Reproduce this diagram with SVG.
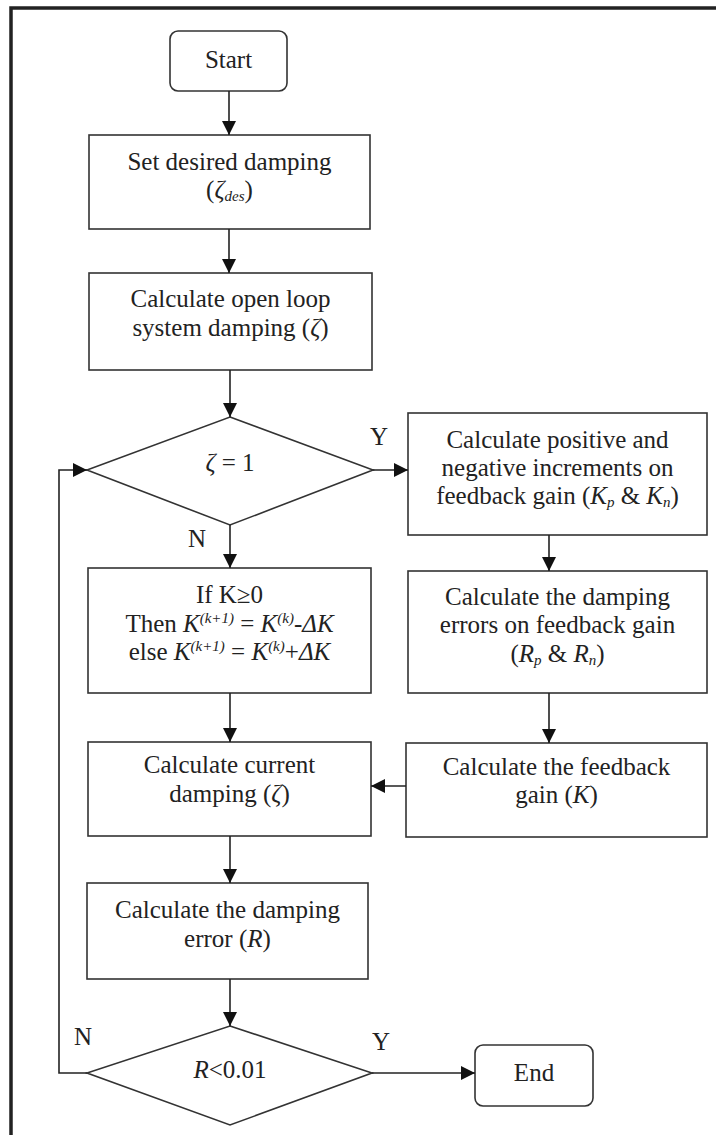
<svg xmlns="http://www.w3.org/2000/svg" width="716" height="1135" viewBox="0 0 716 1135">
<style>
.box{fill:#fff;stroke:#333;stroke-width:1.6}
.frame{fill:none;stroke:#222;stroke-width:3.5}
.con{fill:none;stroke:#222;stroke-width:1.6}
text{font-family:"Liberation Serif","Times New Roman",serif;font-size:25px;fill:#222}
.t{text-anchor:middle}
.i{font-style:italic}
.s{font-size:15px;font-style:italic}
</style>
<defs>
<marker id="ah" markerUnits="userSpaceOnUse" markerWidth="15" markerHeight="15" refX="14" refY="7" orient="auto">
<path d="M0,0 L14,7 L0,14 z" fill="#111"/>
</marker>
</defs>
<rect width="716" height="1135" fill="#fff"/>
<path class="frame" d="M11,1135 L11,8 L716,8"/>

<g id="start">
<rect class="box" x="170" y="31" width="117" height="60" rx="8"/>
<text class="t" x="228.5" y="68">Start</text>
</g>
<g id="set-desired">
<rect class="box" x="89" y="135" width="281" height="94"/>
<text class="t" x="229.5" y="170">Set desired damping</text>
<text class="t" x="229.5" y="198">(<tspan class="i">ζ</tspan><tspan class="s" dy="3">des</tspan><tspan dy="-3">)</tspan></text>
</g>
<g id="open-loop">
<rect class="box" x="89" y="273" width="283" height="97"/>
<text class="t" x="230.5" y="307">Calculate open loop</text>
<text class="t" x="230.5" y="336">system damping (<tspan class="i">ζ</tspan>)</text>
</g>
<g id="decision-zeta">
<path class="box" d="M230,417 L373,470 L230,525 L87,470 z"/>
<text class="t" x="230" y="471"><tspan class="i">ζ</tspan> = 1</text>
</g>
<g id="increments">
<rect class="box" x="408" y="413" width="299" height="122"/>
<text class="t" x="557.5" y="448">Calculate positive and</text>
<text class="t" x="557.5" y="476">negative increments on</text>
<text class="t" x="557.5" y="504">feedback gain (<tspan class="i">K</tspan><tspan class="s" dy="3">p</tspan><tspan dy="-3"> &amp; </tspan><tspan class="i">K</tspan><tspan class="s" dy="3">n</tspan><tspan dy="-3">)</tspan></text>
</g>
<g id="update-k">
<rect class="box" x="88" y="568" width="283" height="125"/>
<text class="t" x="229.5" y="603">If K≥0</text>
<text class="t" x="229.5" y="632">Then <tspan class="i">K</tspan><tspan class="s" dy="-9">(k+1)</tspan><tspan dy="9"> = </tspan><tspan class="i">K</tspan><tspan class="s" dy="-9">(k)</tspan><tspan class="i" dy="9">-ΔK</tspan></text>
<text class="t" x="229.5" y="660">else <tspan class="i">K</tspan><tspan class="s" dy="-9">(k+1)</tspan><tspan dy="9"> = </tspan><tspan class="i">K</tspan><tspan class="s" dy="-9">(k)</tspan><tspan dy="9">+</tspan><tspan class="i">ΔK</tspan></text>
</g>
<g id="damping-errors">
<rect class="box" x="408" y="571" width="299" height="122"/>
<text class="t" x="557.5" y="605">Calculate the damping</text>
<text class="t" x="557.5" y="633">errors on feedback gain</text>
<text class="t" x="557.5" y="662">(<tspan class="i">R</tspan><tspan class="s" dy="3">p</tspan><tspan dy="-3"> &amp; </tspan><tspan class="i">R</tspan><tspan class="s" dy="3">n</tspan><tspan dy="-3">)</tspan></text>
</g>
<g id="current-damping">
<rect class="box" x="88" y="742" width="283" height="94"/>
<text class="t" x="229.5" y="773">Calculate current</text>
<text class="t" x="229.5" y="802">damping (<tspan class="i">ζ</tspan>)</text>
</g>
<g id="feedback-gain">
<rect class="box" x="406" y="743" width="301" height="94"/>
<text class="t" x="556.5" y="775">Calculate the feedback</text>
<text class="t" x="556.5" y="803">gain (<tspan class="i">K</tspan>)</text>
</g>
<g id="damping-error">
<rect class="box" x="87" y="883" width="281" height="96"/>
<text class="t" x="227.5" y="918">Calculate the damping</text>
<text class="t" x="227.5" y="947">error (<tspan class="i">R</tspan>)</text>
</g>
<g id="decision-r">
<path class="box" d="M230,1026 L372,1073 L230,1125 L87,1073 z"/>
<text class="t" x="230" y="1078"><tspan class="i">R</tspan>&lt;0.01</text>
</g>
<g id="end">
<rect class="box" x="475" y="1045" width="118" height="61" rx="8"/>
<text class="t" x="534" y="1081">End</text>
</g>

<g id="connectors">
<path class="con" marker-end="url(#ah)" d="M229,91 L229,135"/>
<path class="con" marker-end="url(#ah)" d="M229,229 L229,273"/>
<path class="con" marker-end="url(#ah)" d="M230,370 L230,417"/>
<path class="con" marker-end="url(#ah)" d="M373,470 L408,470"/>
<path class="con" marker-end="url(#ah)" d="M230,525 L230,568"/>
<path class="con" marker-end="url(#ah)" d="M549,535 L549,571"/>
<path class="con" marker-end="url(#ah)" d="M549,693 L549,743"/>
<path class="con" marker-end="url(#ah)" d="M406,786 L371,786"/>
<path class="con" marker-end="url(#ah)" d="M230,693 L230,742"/>
<path class="con" marker-end="url(#ah)" d="M230,836 L230,883"/>
<path class="con" marker-end="url(#ah)" d="M230,979 L230,1026"/>
<path class="con" marker-end="url(#ah)" d="M372,1073 L475,1073"/>
<path class="con" marker-end="url(#ah)" d="M87,1073 L59,1073 L59,470 L87,470"/>
<text x="370" y="445">Y</text>
<text x="188" y="547">N</text>
<text x="74" y="1045">N</text>
<text x="372" y="1050">Y</text>
</g>
</svg>
